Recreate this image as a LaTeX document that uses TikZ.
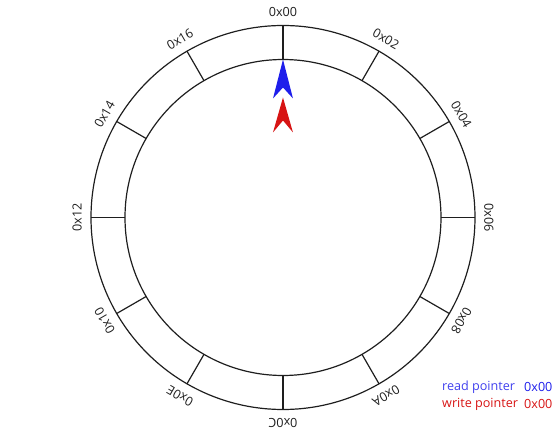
\documentclass[tikz,border=0pt]{standalone}
\usepackage{fontspec}
\setmainfont{Open Sans}
\usepackage{xcolor}
\definecolor{readblue}{RGB}{30,30,235}
\definecolor{writered}{RGB}{215,20,20}
\definecolor{ringgray}{RGB}{30,30,30}

\begin{document}
\begin{tikzpicture}[
  x=1pt, y=1pt,
  font=\fontsize{12.6}{14}\selectfont,
  ring/.style={draw=ringgray, line width=1.2pt},
  slotlabel/.style={inner sep=0pt, text=ringgray},
  legend/.style={anchor=west, inner sep=0pt}
]
  \useasboundingbox (-283,-213.5) rectangle (277,217.5);

  % ring buffer
  \draw[ring] (0,0) circle (192);
  \draw[ring] (0,0) circle (158);
  \foreach \lbl [count=\i from 0] in {00,02,04,06,08,0A,0C,0E,10,12,14,16} {
    \pgfmathsetmacro{\ang}{90-30*\i}
    \draw[ring] (\ang:158) -- (\ang:192);
    \node[slotlabel, rotate=-30*\i] (slot\i) at (\ang:206) {0x\lbl};
  }

  % pointers
  \fill[readblue] (0,158) -- (-10,119) -- (0,130) -- (10,119) -- cycle;
  \fill[writered] (0,120) -- (-10,85) -- (0,97) -- (10,85) -- cycle;

  % legend
  \node[legend, text=readblue!85!white] (readlbl) at (159,-169.5) {read pointer};
  \node[legend, text=readblue] (readval) at (241,-169.5) {0x00};
  \node[legend, text=writered] (writelbl) at (159,-186.5) {write pointer};
  \node[legend, text=writered] (writeval) at (241,-186.5) {0x00};
\end{tikzpicture}
\end{document}
